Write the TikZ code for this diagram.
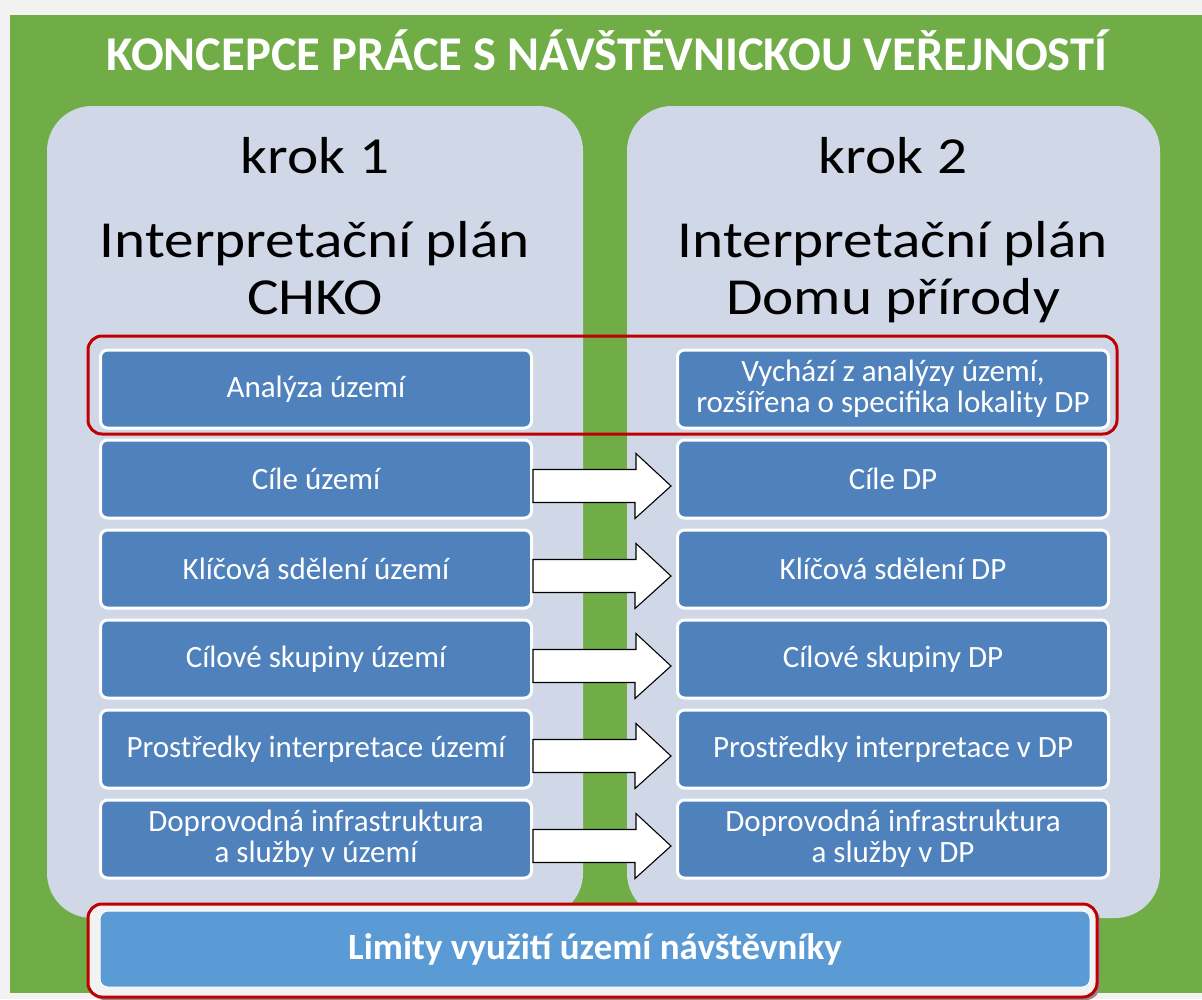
\documentclass[tikz,border=0pt]{standalone}
\usepackage{fontspec}
\setmainfont{Carlito}
\newfontfamily\headfont[FakeStretch=1.14]{Carlito}
\usetikzlibrary{calc}
\definecolor{pagegray}{HTML}{F2F2F2}
\definecolor{leafgreen}{HTML}{70AD47}
\definecolor{panelgray}{HTML}{D0D8E8}
\definecolor{boxblue}{HTML}{4F81BD}
\definecolor{barblue}{HTML}{5B9BD5}
\definecolor{markred}{HTML}{C00000}

\begin{document}
\begin{tikzpicture}[x=1pt,y=-1pt,
	panel/.style={fill=panelgray,rounded corners=45pt},
	stepbox/.style={rectangle,rounded corners=7pt,fill=boxblue,draw=white,line width=3pt,minimum width=431pt,minimum height=78pt,inner sep=0pt,text=white,align=center,font=\fontsize{31}{31}\selectfont},
	headline/.style={anchor=base,font=\headfont\fontsize{52}{56}\selectfont},
	blockarrow/.style={draw=black,fill=white,line width=1.1pt,line join=miter}]
		\fill[pagegray] (0,0) rectangle (1202,999);
		\useasboundingbox (0,0) rectangle (1202,999);
		\fill[leafgreen] (10,15) rectangle (1202,993);
		\node[anchor=base,text=white,font=\bfseries\fontsize{48.5}{50}\selectfont] (title) at (607,70) {KONCEPCE PRÁCE S NÁVŠTĚVNICKOU VEŘEJNOSTÍ};
		\fill[panel] (47,106) rectangle (583,918);
		\fill[panel] (627,106) rectangle (1160,918);
		\node[headline] (krok1) at (315,173) {krok 1};
		\node[headline] (plan1) at (315,257) {Interpretační plán};
		\node[headline] (chko) at (315,314) {CHKO};
		\node[headline] (krok2) at (893,173) {krok 2};
		\node[headline] (plan2) at (893,257) {Interpretační plán};
		\node[headline] (dp) at (893,314) {Domu přírody};
		\node[stepbox] (l1) at (316,389) {Analýza území};
		\node[stepbox] (r1) at (893,389) {Vychází z analýzy území,\\rozšířena o specifika lokality DP};
		\node[stepbox] (l2) at (316,479) {Cíle území};
		\node[stepbox] (r2) at (893,479) {Cíle DP};
		\node[stepbox] (l3) at (316,569) {Klíčová sdělení území};
		\node[stepbox] (r3) at (893,569) {Klíčová sdělení DP};
		\node[stepbox] (l4) at (316,659) {Cílové skupiny území};
		\node[stepbox] (r4) at (893,659) {Cílové skupiny DP};
		\node[stepbox] (l5) at (316,749) {Prostředky interpretace území};
		\node[stepbox] (r5) at (893,749) {Prostředky interpretace v DP};
		\node[stepbox] (l6) at (316,839) {Doprovodná infrastruktura\\a služby v území};
		\node[stepbox] (r6) at (893,839) {Doprovodná infrastruktura\\a služby v DP};
		\draw[markred,line width=3pt,rounded corners=14pt] (88,336) rectangle (1117,434);
		\foreach \i in {2,...,6}
			\draw[blockarrow] ($(l\i.east)+(0,-9.5)$) -- ++(103,0) -- ++(0,-16) -- ($(r\i.west)+(-5,7)$) -- ++(-36,32.5) -- ++(0,-16) -- ($(l\i.east)+(0,23.5)$) -- cycle;
		\fill[black!45,rounded corners=14pt] (91,907) rectangle (1100,1000);
		\draw[markred,fill=pagegray,line width=3pt,rounded corners=14pt] (88,904) rectangle (1097,997);
		\node[rectangle,rounded corners=8pt,fill=barblue,draw=white,line width=1pt,minimum width=990pt,minimum height=76pt,text=white,font=\bfseries\fontsize{37}{40}\selectfont] (limity) at (595,949) {Limity využití území návštěvníky};
	\end{tikzpicture}
\end{document}
